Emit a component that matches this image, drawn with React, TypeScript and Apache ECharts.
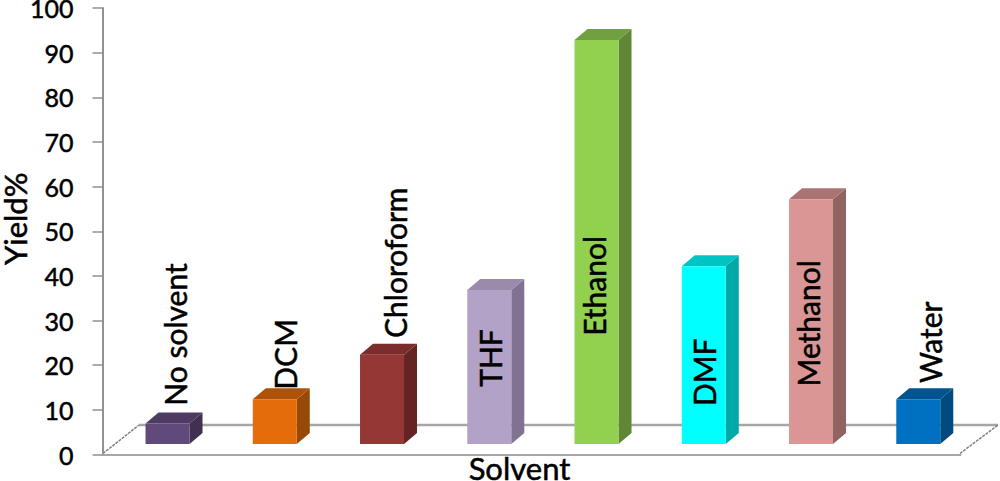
import React, { useEffect, useRef } from "react";
import * as echarts from "echarts";

const categories = ["No solvent", "DCM", "Chloroform", "THF", "Ethanol", "DMF", "Methanol", "Water"];
const yields = [4.6, 10, 20, 34.5, 90.5, 39.8, 54.8, 10];
const frontColors = ["#604A7B", "#E46C0A", "#953735", "#B3A2C7", "#92D050", "#00FFFF", "#D99694", "#0070C0"];
const topColors = ["#4D3B63", "#AD5208", "#7A2D2B", "#9A8BAB", "#729F3F", "#00C4C4", "#A97472", "#00548F"];
const sideColors = ["#403152", "#984807", "#632423", "#807291", "#5F8735", "#00A8A8", "#916361", "#004A80"];
// label centre relative to the bar's top-centre point
const labelDx = [7, 10, 13, 1, -3, 0, -3, 12];
const labelDy = [-89, -45, -92, 68, 246, 106, 124, -57];

const FONT = 'Lato, "Open Sans", sans-serif';
const DEPTH_X = 13;
const DEPTH_Y = 11;
const BAR_W = 44;
const SHIFT_X = 11.4;
const FLOOR_LIFT = 10.5;
const HEAVY = { textBorderColor: "#000", textBorderWidth: 0.5 };

function renderBar(params: any, api: any) {
  const i = api.value(0);
  const v = api.value(1);
  const [cx, rawTop] = api.coord([i, v]);
  const [, rawBase] = api.coord([i, 0]);
  const c = cx + SHIFT_X;
  const top = rawTop - FLOOR_LIFT;
  const base = rawBase - FLOOR_LIFT;
  const l = c - BAR_W / 2;
  const r = c + BAR_W / 2;
  return {
    type: "group",
    children: [
      {
        type: "polygon",
        shape: { points: [[r, top], [r + DEPTH_X, top - DEPTH_Y], [r + DEPTH_X, base - DEPTH_Y], [r, base]] },
        style: { fill: sideColors[i] },
      },
      {
        type: "polygon",
        shape: { points: [[l, top], [l + DEPTH_X, top - DEPTH_Y], [r + DEPTH_X, top - DEPTH_Y], [r, top]] },
        style: { fill: topColors[i] },
      },
      {
        type: "rect",
        shape: { x: l, y: top, width: BAR_W, height: base - top },
        style: { fill: frontColors[i] },
      },
      {
        type: "text",
        x: c + labelDx[i],
        y: top + labelDy[i],
        rotation: Math.PI / 2,
        style: {
          text: categories[i],
          fill: "#000",
          stroke: "#000",
          lineWidth: 0.5,
          font: `400 30px ${FONT}`,
          align: "center",
          verticalAlign: "middle",
        },
      },
    ],
  };
}

export default function App() {
  const ref = useRef<HTMLDivElement>(null);
  useEffect(() => {
    const chart = echarts.init(ref.current!, undefined, { renderer: "svg" });
    const gray = "#A6A6A6";
    chart.setOption({
      animation: false,
      backgroundColor: "#fff",
      grid: { left: 102.5, width: 858, top: 8, height: 446.5, outerBoundsMode: "none" },
      graphic: [
        { type: "line", z: 0, shape: { x1: 139, y1: 425, x2: 998, y2: 425 }, style: { stroke: gray, lineWidth: 2.5 } },
        { type: "line", z: 0, shape: { x1: 103, y1: 453.5, x2: 139, y2: 425 }, style: { stroke: "#808080", lineWidth: 1.5, lineDash: [3, 1] } },
        { type: "line", z: 0, shape: { x1: 960, y1: 453.5, x2: 998, y2: 425 }, style: { stroke: "#808080", lineWidth: 1.5, lineDash: [3, 1] } },
      ],
      xAxis: {
        type: "category",
        data: categories,
        name: "Solvent",
        nameLocation: "middle",
        nameGap: 3,
        nameTextStyle: { fontFamily: FONT, fontSize: 31, lineHeight: 20, color: "#000", padding: [0, 24, 0, 0], ...HEAVY },
        axisLine: { show: true, onZero: false, lineStyle: { color: gray, width: 2 } },
        axisTick: { show: false },
        axisLabel: { show: false },
      },
      yAxis: {
        type: "value",
        min: 0,
        max: 100,
        interval: 10,
        name: "Yield%",
        nameLocation: "middle",
        nameMoveOverlap: false,
        nameGap: 76,
        nameTextStyle: { fontFamily: FONT, fontSize: 31, lineHeight: 24, color: "#000", padding: [0, 0, 0, 25], ...HEAVY },
        axisLine: { show: true, lineStyle: { color: "#919191", width: 2 } },
        axisTick: { show: true, length: 10, lineStyle: { color: "#919191", width: 1.5 } },
        axisLabel: { fontFamily: FONT, fontSize: 25, lineHeight: 16, color: "#000", margin: 29, padding: [3, 0, 0, 0], ...HEAVY },
        splitLine: { show: false },
      },
      series: [
        {
          type: "custom",
          z: 3,
          clip: false,
          renderItem: renderBar,
          encode: { x: 0, y: 1 },
          data: yields.map((v, i) => [i, v]),
        },
      ],
    });
    return () => chart.dispose();
  }, []);
  return <div ref={ref} style={{ position: "fixed", left: 0, top: 0, width: 1000, height: 481 }} />;
}
